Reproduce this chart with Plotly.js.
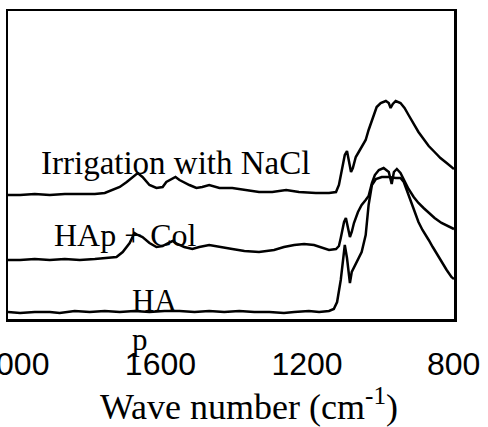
<!DOCTYPE html>
<html>
<head>
<meta charset="utf-8">
<script src="https://cdn.plot.ly/plotly-3.0.1.min.js"></script>
<style>html,body{margin:0;padding:0;background:#fff}#chart{width:488px;height:427px}</style>
</head>
<body>
<div id="chart"></div>
<script>
// Wavenumbers (cm-1) and intensities (arbitrary units)
const naclX = [2016,1983,1943,1902,1861,1820,1779,1752,1730,1711,1692,1676,1662,1649,1630,1611,1594,1584,1567,1559,1548,1543,1521,1502,1486,1467,1439,1404,1366,1331,1295,1257,1222,1176,1140,1121,1113,1105,1097,1091,1086,1080,1075,1067,1059,1051,1040,1032,1023,1010,999,985,977,972,966,958,945,934,923,909,896,882,868,852,836,819,806,799];
const naclY = [124,124,125,124,125,125,125,126,129,132,137,142,146,142,134,131,132,137,141,142,139,138,134,131,132,134,131,131,129,127,127,129,127,126,126,127,134,149,164,168,159,147,151,162,167,172,179,189,199,212,216,218,216,211,215,218,216,211,204,195,187,180,173,167,161,156,152,150];

const hapX = [2016,1983,1943,1902,1861,1820,1779,1739,1720,1703,1684,1671,1662,1649,1630,1611,1594,1584,1567,1554,1535,1513,1494,1467,1439,1404,1371,1331,1290,1263,1235,1208,1181,1162,1140,1121,1113,1108,1099,1094,1089,1083,1078,1072,1061,1051,1040,1032,1023,1015,1004,991,977,969,963,955,945,934,923,909,896,882,868,852,833,806,799];
const hapY = [59,59,60,59,60,59,60,61,62,67,76,86,84,82,76,72,73,75,78,75,72,70,72,74,72,70,68,67,69,72,74,75,74,72,69,70,73,81,97,101,91,82,87,96,107,114,119,123,136,144,149,151,147,135,147,150,146,138,130,122,116,111,106,101,96,91,90];

const haX = [2016,1983,1943,1902,1875,1834,1793,1752,1711,1671,1630,1589,1548,1507,1467,1426,1385,1344,1303,1263,1235,1195,1167,1140,1127,1118,1108,1099,1097,1091,1083,1078,1064,1051,1040,1032,1023,1012,996,977,958,945,936,928,920,912,904,896,885,876,868,857,849,841,830,819,806,799];
const haY = [7,6,7,7,6,8,7,8,7,8,7,8,8,7,8,7,8,7,7,6,7,8,7,8,10,17,39,69,74,61,36,47,57,67,84,114,134,140,142,142,141,141,137,129,119,111,105,97,89,83,79,72,67,62,56,49,42,40];

const xTicks = [2000, 1600, 1200, 800];
const xTickText = ['2000', '1600', '1200', '800'];

const labels = ['Irrigation with NaCl', 'HAp + Col', 'HA', 'p'];

const lineStyle = {color: '#000', width: 2.5, shape: 'linear'};
const traces = [
  {x: naclX, y: naclY, name: 'Irrigation with NaCl', mode: 'lines', line: lineStyle},
  {x: hapX, y: hapY, name: 'HAp + Col', mode: 'lines', line: lineStyle},
  {x: haX, y: haY, name: 'HA', mode: 'lines', line: lineStyle}
];

const serif = 'Liberation Serif, Times New Roman, serif';
const layout = {
  width: 488, height: 427,
  margin: {l: 8, r: 34, t: 11, b: 108, pad: 0},
  paper_bgcolor: '#fff', plot_bgcolor: '#fff',
  showlegend: false,
  xaxis: {
    range: [2016, 799], autorange: false,
    tickvals: xTicks, ticktext: xTickText,
    ticks: '', showgrid: false, zeroline: false,
    showline: true, mirror: true, linecolor: '#000', linewidth: 2.5,
    tickfont: {family: 'Liberation Sans, Arial, sans-serif', size: 32, color: '#000'},
    ticklabelstandoff: 15,
    ticklabeloverflow: 'allow',
    automargin: false,
    title: {text: '\u200b\u00a0\u00a0\u00a0\u00a0Wave number (cm<sup>-1</sup>)', font: {family: serif, size: 36, color: '#000'}, standoff: 19}
  },
  yaxis: {
    range: [0, 308], autorange: false,
    showticklabels: false, ticks: '', showgrid: false, zeroline: false,
    showline: true, mirror: true, linecolor: '#000', linewidth: 2.5,
    automargin: false
  },
  annotations: [
    {x: 1932, y: 156, xref: 'x', yref: 'y', text: labels[0], showarrow: false, xanchor: 'left', yanchor: 'middle', font: {family: serif, size: 33, color: '#000'}},
    {x: 1896, y: 84, xref: 'x', yref: 'y', text: labels[1], showarrow: false, xanchor: 'left', yanchor: 'middle', font: {family: serif, size: 32, color: '#000'}},
    {x: 1684, y: 19, xref: 'x', yref: 'y', text: labels[2], showarrow: false, xanchor: 'left', yanchor: 'middle', font: {family: serif, size: 31, color: '#000'}},
    {x: 1657, y: -0.065, xref: 'x', yref: 'paper', text: labels[3], showarrow: false, xanchor: 'center', yanchor: 'middle', font: {family: serif, size: 31, color: '#000'}}
  ]
};

Plotly.newPlot('chart', traces, layout, {staticPlot: true, displayModeBar: false});
</script>
</body>
</html>
